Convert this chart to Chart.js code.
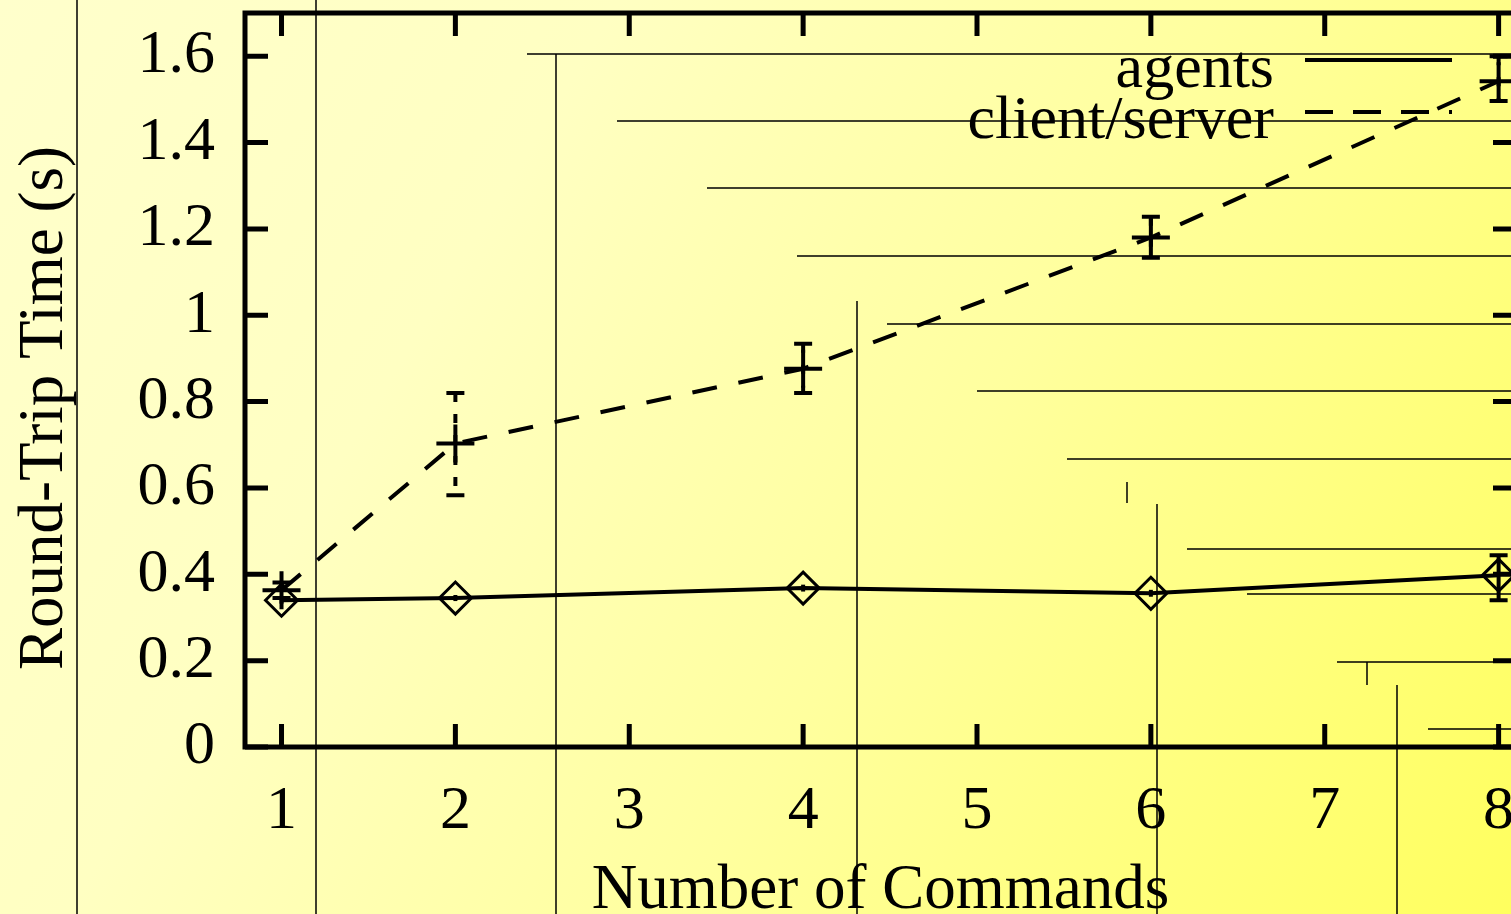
<!DOCTYPE html>
<html>
<head>
<meta charset="utf-8">
<script src="https://cdn.jsdelivr.net/npm/chart.js@4.4.1/dist/chart.umd.min.js"></script>
<style>
  html, body { margin: 0; padding: 0; overflow: hidden; background: #ffffcc; }
  #wrap { width: 1540px; height: 914px; }
</style>
</head>
<body>
<div id="wrap"><canvas id="rtt" width="1540" height="914"></canvas></div>
<script>
// Round-trip time against number of commands
const commands = [1, 2, 4, 6, 8];

const agentsTime = [0.340, 0.345, 0.368, 0.356, 0.398];
const agentsLow  = [0.332, 0.338, 0.360, 0.348, 0.340];
const agentsHigh = [0.348, 0.352, 0.376, 0.364, 0.444];

const clientServerTime = [0.363, 0.703, 0.876, 1.180, 1.542];
const clientServerLow  = [0.345, 0.583, 0.820, 1.133, 1.496];
const clientServerHigh = [0.381, 0.820, 0.934, 1.228, 1.600];

const xTickValues = [1, 2, 3, 4, 5, 6, 7, 8];
const yTickValues = [0, 0.2, 0.4, 0.6, 0.8, 1, 1.2, 1.4, 1.6];
const yTickLabels = ['0', '0.2', '0.4', '0.6', '0.8', '1', '1.2', '1.4', '1.6'];

const seriesNames = ['agents', 'client/server'];
const xTitle = 'Number of Commands';
const yTitle = 'Round-Trip Time (s)';

const FONT = "'Liberation Serif', 'Times New Roman', serif";
const FONT_SIZE = 62;
const TITLE_SIZE = 63;
const INK = '#000000';

// yellow slide background
const backdrop = {
  id: 'backdrop',
  beforeDraw(chart) {
    const { ctx, width, height } = chart;
    ctx.save();
    const g = ctx.createLinearGradient(0, 0, 1511, 914);
    g.addColorStop(0, '#ffffcc');
    g.addColorStop(0.3, '#ffffc2');
    g.addColorStop(0.6, '#ffff9e');
    g.addColorStop(1, '#ffff5e');
    ctx.fillStyle = g;
    ctx.fillRect(0, 0, width, height);

    // thin staircase rules of the slide template
    const vRules = [[77, 0, 914], [316, 0, 914], [556, 54, 914], [857, 301, 914],
                    [1157, 504, 914], [1397, 685, 914], [1127, 482, 503], [1367, 662, 685]];
    const hRules = [[54, 527], [121, 617], [188, 707], [256, 797], [324, 887], [391, 977],
                    [459, 1067], [549, 1187], [594, 1247], [662, 1337], [729, 1428]];
    ctx.strokeStyle = INK;
    ctx.lineWidth = 1.5;
    ctx.beginPath();
    vRules.forEach(([x, y0, y1]) => { ctx.moveTo(x, y0); ctx.lineTo(x, y1); });
    hRules.forEach(([y, x0]) => { ctx.moveTo(x0, y); ctx.lineTo(width, y); });
    ctx.stroke();
    ctx.restore();
  }
};

// plot frame with inward ticks on all four sides
const frame = {
  id: 'frame',
  afterDatasetsDraw(chart) {
    const { ctx, chartArea: a, scales: { x, y } } = chart;
    const tick = 23;
    ctx.save();
    ctx.strokeStyle = INK;
    ctx.lineWidth = 5;
    ctx.lineCap = 'butt';
    ctx.strokeRect(a.left, a.top, a.right - a.left, a.bottom - a.top);
    ctx.beginPath();
    xTickValues.forEach(v => {
      const px = x.getPixelForValue(v);
      ctx.moveTo(px, a.bottom); ctx.lineTo(px, a.bottom - tick);
      ctx.moveTo(px, a.top); ctx.lineTo(px, a.top + tick);
    });
    yTickValues.forEach(v => {
      const py = y.getPixelForValue(v);
      ctx.moveTo(a.left, py); ctx.lineTo(a.left + tick, py);
      ctx.moveTo(a.right, py); ctx.lineTo(a.right - tick, py);
    });
    ctx.stroke();
    ctx.restore();
  }
};

// vertical error bars with small caps
const errorBars = {
  id: 'errorBars',
  afterDatasetsDraw(chart) {
    const { ctx, scales: { x, y } } = chart;
    ctx.save();
    chart.data.datasets.forEach(ds => {
      if (!ds.errLow) return;
      ctx.strokeStyle = INK;
      ds.data.forEach((pt, i) => {
        const px = x.getPixelForValue(pt.x);
        const lo = y.getPixelForValue(ds.errLow[i]);
        const hi = y.getPixelForValue(ds.errHigh[i]);
        ctx.lineWidth = 4;
        ctx.setLineDash(ds.errDash || []);
        ctx.beginPath();
        ctx.moveTo(px, hi); ctx.lineTo(px, lo);
        ctx.stroke();
        ctx.setLineDash([]);
        if (lo - hi < 14) return;
        ctx.beginPath();
        ctx.moveTo(px - 9, hi); ctx.lineTo(px + 9, hi);
        ctx.moveTo(px - 9, lo); ctx.lineTo(px + 9, lo);
        ctx.stroke();
      });
    });
    ctx.restore();
  }
};

// key in the top right corner, text before sample, plus rotated y title
const keyAndTitle = {
  id: 'keyAndTitle',
  afterDraw(chart) {
    const { ctx } = chart;
    ctx.save();
    ctx.fillStyle = INK;
    ctx.font = `${FONT_SIZE}px ${FONT}`;
    ctx.textAlign = 'right';
    ctx.textBaseline = 'alphabetic';
    const rows = [{ text: 87, line: 60 }, { text: 138, line: 112 }];
    chart.data.datasets.forEach((ds, i) => {
      const r = rows[i];
      ctx.fillText(ds.label, 1274, r.text);
      ctx.strokeStyle = INK;
      ctx.lineWidth = 4;
      ctx.setLineDash(ds.keyDash || []);
      ctx.beginPath();
      ctx.moveTo(1305, r.line);
      ctx.lineTo(1452, r.line);
      ctx.stroke();
      ctx.setLineDash([]);
    });

    ctx.font = `${TITLE_SIZE}px ${FONT}`;
    ctx.translate(62, 408);
    ctx.rotate(-Math.PI / 2);
    ctx.textAlign = 'center';
    ctx.fillText(yTitle, 0, 0);
    ctx.restore();
  }
};

const toPoints = (vals) => commands.map((c, i) => ({ x: c, y: vals[i] }));

new Chart(document.getElementById('rtt'), {
  type: 'line',
  data: {
    datasets: [
      {
        label: seriesNames[0],
        data: toPoints(agentsTime),
        errLow: agentsLow,
        errHigh: agentsHigh,
        errDash: [],
        keyDash: [],
        borderColor: INK,
        borderWidth: 4,
        tension: 0,
        pointStyle: 'rectRot',
        pointRadius: 16,
        pointBorderWidth: 3,
        pointBorderColor: INK,
        pointBackgroundColor: 'rgba(0,0,0,0)'
      },
      {
        label: seriesNames[1],
        data: toPoints(clientServerTime),
        errLow: clientServerLow,
        errHigh: clientServerHigh,
        errDash: [9, 12],
        keyDash: [28, 20],
        borderColor: INK,
        borderWidth: 4,
        borderDash: [25, 22],
        tension: 0,
        pointStyle: 'cross',
        pointRadius: 19,
        pointBorderWidth: 4,
        pointBorderColor: INK,
        pointBackgroundColor: INK
      }
    ]
  },
  options: {
    responsive: false,
    animation: false,
    devicePixelRatio: 1,
    layout: { autoPadding: false, padding: { left: 0, top: 13, right: 24, bottom: 0 } },
    plugins: { legend: { display: false }, tooltip: { enabled: false } },
    scales: {
      x: {
        type: 'linear',
        min: 0.79,
        max: 8.1,
        grid: { display: false, drawTicks: false },
        border: { display: false },
        afterBuildTicks: s => { s.ticks = xTickValues.map(v => ({ value: v })); },
        afterFit: s => { s.height = 167; s.paddingLeft = 0; s.paddingRight = 0; },
        ticks: {
          autoSkip: false, maxRotation: 0, padding: 28, color: INK,
          font: { family: FONT, size: FONT_SIZE },
          callback: v => String(v)
        },
        title: {
          display: true, text: xTitle, color: INK, padding: 0,
          font: { family: FONT, size: TITLE_SIZE, lineHeight: 0.7 }
        }
      },
      y: {
        type: 'linear',
        min: 0,
        max: 1.7,
        grid: { display: false, drawTicks: false },
        border: { display: false },
        afterBuildTicks: s => { s.ticks = yTickValues.map(v => ({ value: v })); },
        afterFit: s => { s.width = 245; s.paddingTop = 0; s.paddingBottom = 0; },
        ticks: {
          autoSkip: false, padding: 30, color: INK,
          font: { family: FONT, size: FONT_SIZE },
          callback: (v, i) => yTickLabels[i]
        }
      }
    }
  },
  plugins: [backdrop, errorBars, frame, keyAndTitle]
});
</script>
</body>
</html>
